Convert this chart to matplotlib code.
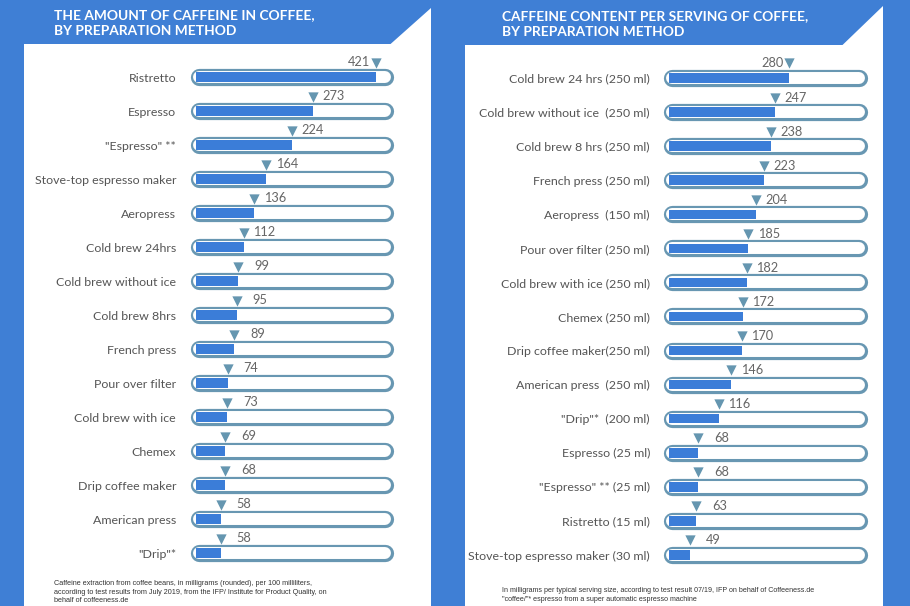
#!/usr/bin/python
# -*- coding: utf-8 -*-

import matplotlib
matplotlib.use("Agg")
import matplotlib.pyplot as plt
from matplotlib.patches import Rectangle, Polygon
from matplotlib.transforms import blended_transform_factory

# caffeine per 100 ml
cats_left = ["Ristretto", "Espresso", '"Espresso" **', "Stove-top espresso maker",
             "Aeropress", "Cold brew 24hrs", "Cold brew without ice", "Cold brew 8hrs",
             "French press", "Pour over filter", "Cold brew with ice", "Chemex",
             "Drip coffee maker", "American press", '"Drip"*']
vals_left = [421, 273, 224, 164, 136, 112, 99, 95, 89, 74, 73, 69, 68, 58, 58]

# caffeine per serving
cats_right = ["Cold brew 24 hrs (250 ml)", "Cold brew without ice  (250 ml)",
              "Cold brew 8 hrs (250 ml)", "French press (250 ml)", "Aeropress  (150 ml)",
              "Pour over filter (250 ml)", "Cold brew with ice (250 ml)", "Chemex (250 ml)",
              "Drip coffee maker(250 ml)", "American press  (250 ml)", '"Drip"*  (200 ml)',
              "Espresso (25 ml)", '"Espresso" ** (25 ml)', "Ristretto (15 ml)",
              "Stove-top espresso maker (30 ml)"]
vals_right = [280, 247, 238, 223, 204, 185, 182, 172, 170, 146, 116, 68, 68, 63, 49]

title_left = "THE AMOUNT OF CAFFEINE IN COFFEE,\nBY PREPARATION METHOD"
title_right = "CAFFEINE CONTENT PER SERVING OF COFFEE,\nBY PREPARATION METHOD"
note_left = ("Caffeine extraction from coffee beans, in milligrams (rounded), per 100 milliliters,\n"
             "according to test results from July 2019, from the IFP/ Institute for Product Quality, on\n"
             "behalf of coffeeness.de")
note_right = ("In milligrams per typical serving size, according to test result 07/19, IFP on behalf of Coffeeness.de\n"
              '"coffee/"* espresso from a super automatic espresso machine')

BLUE = "#3f7fd5"
BAR = "#3b7dd8"
RIM = "#6897b2"
TRI = "#6596b0"
GREY = "#555555"

W, H = 910, 606
fig = plt.figure(figsize=(W / 100, H / 100), dpi=100)
fig.patch.set_facecolor(BLUE)

bg = fig.add_axes([0, 0, 1, 1])
bg.set_xlim(0, W)
bg.set_ylim(H, 0)
bg.axis("off")

# white panels with the cut corner of the banner
bg.add_patch(Rectangle((24, 44), 407, H - 44, color="white", lw=0))
bg.add_patch(Polygon([(390, 44.5), (431, 8), (431, 44.5)], color="white", lw=0))
bg.add_patch(Rectangle((465, 45), 418, H - 45, color="white", lw=0))
bg.add_patch(Polygon([(842, 45.5), (883, 6), (883, 45.5)], color="white", lw=0))

bg.text(54, 23, title_left, color="white", fontsize=9.9, fontweight="bold",
        family="Lato", va="center", linespacing=1.35)
bg.text(502, 24, title_right, color="white", fontsize=9.9, fontweight="bold",
        family="Lato", va="center", linespacing=1.35)
bg.text(54, 592, note_left, color="#333333", fontsize=5.2, family="Liberation Sans",
        va="center", linespacing=1.3)
bg.text(502, 595, note_right, color="#333333", fontsize=5.1, family="Liberation Sans",
        va="center", linespacing=1.3)

PX = 0.4275  # pixels per mg


def draw_panel(cats, vals, x_left, x_right, x_zero, y_first, step, label_pad):
    y_top, y_bot = 55, 572
    ax = fig.add_axes([x_left / W, 1 - y_bot / H, (x_right - x_left) / W, (y_bot - y_top) / H])
    ax.set_xlim(-(x_zero - x_left) / PX, (x_right - x_zero) / PX)
    ax.set_ylim((y_bot - y_first) / step, (y_top - y_first) / step)
    for s in ax.spines.values():
        s.set_visible(False)
    ax.set_facecolor("none")
    ax.set_xticks([])
    rows = list(range(len(cats)))
    ax.set_yticks(rows)
    ax.set_yticklabels(cats, fontsize=8.9, color=GREY, family="Lato")
    ax.tick_params(axis="y", length=0, pad=label_pad)

    # rounded track behind each bar
    trans = blended_transform_factory(ax.transAxes, ax.transData)
    cap = 8.5 / (x_right - x_left)
    for i in rows:
        ax.plot([cap, 1 - cap], [i, i], transform=trans, color=RIM, lw=12.4,
                solid_capstyle="round", zorder=1, clip_on=False)
        ax.plot([cap, 1 - cap], [i, i], transform=trans, color="white", lw=8.6,
                solid_capstyle="round", zorder=2, clip_on=False)

    ax.barh(rows, vals, height=9.5 / step, color=BAR, zorder=3)

    off = 14.5 / step
    ax.scatter(vals, [i - off for i in rows], marker="v", s=55, color=TRI,
               linewidths=0, zorder=4, clip_on=False)
    for i, v in enumerate(vals):
        if i == 0:
            ax.annotate(str(v), (v, i - off), xytext=(-4, 0), textcoords="offset points",
                        ha="right", va="center", fontsize=9.2, color="#666666", family="Lato")
        else:
            dx = 6.8 if v >= 100 else 11.5
            ax.annotate(str(v), (v, i - off), xytext=(dx, 0), textcoords="offset points",
                        ha="left", va="center", fontsize=9.2, color="#666666", family="Lato")
    return ax


draw_panel(cats_left, vals_left, 190, 393, 196, 77, 34.0, 10)
draw_panel(cats_right, vals_right, 663, 867, 669, 78, 34.07, 9.4)

fig.savefig("out.png", dpi=100, facecolor=fig.get_facecolor())
